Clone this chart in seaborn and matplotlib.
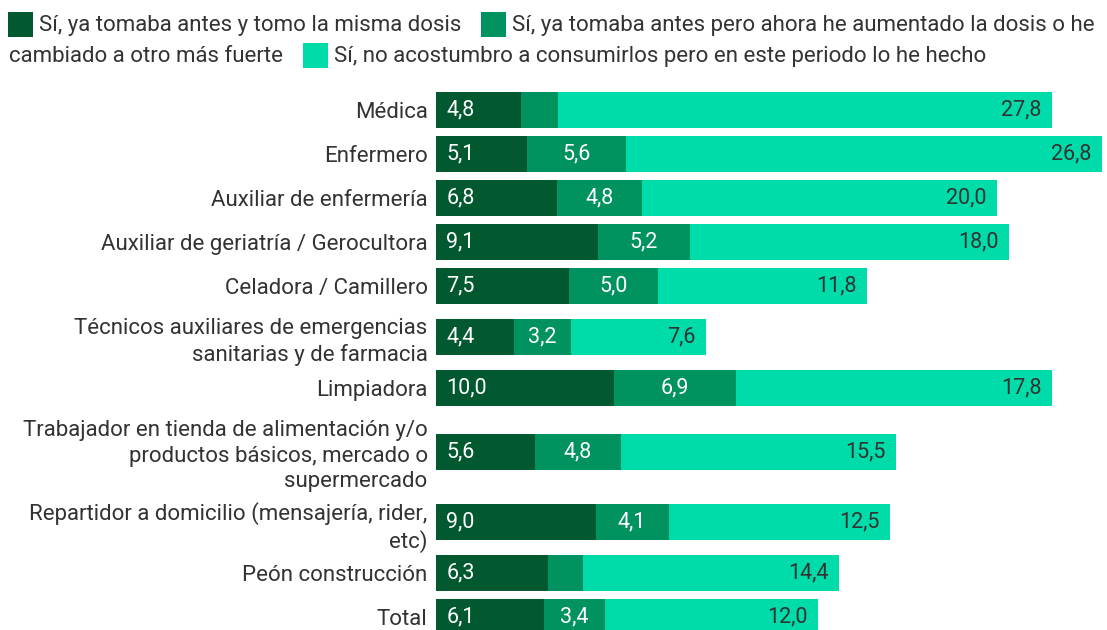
import numpy as np
import pandas as pd
import matplotlib
matplotlib.use("Agg")
import matplotlib.pyplot as plt
import matplotlib.patches as mpatches
import seaborn as sns

# Occupations (top to bottom) and the three stacked shares
categories = [
    "Médica",
    "Enfermero",
    "Auxiliar de enfermería",
    "Auxiliar de geriatría / Gerocultora",
    "Celadora / Camillero",
    "Técnicos auxiliares de emergencias\nsanitarias y de farmacia",
    "Limpiadora",
    "Trabajador en tienda de alimentación y/o\nproductos básicos, mercado o\nsupermercado",
    "Repartidor a domicilio (mensajería, rider,\netc)",
    "Peón construcción",
    "Total",
]
misma_dosis = [4.8, 5.1, 6.8, 9.1, 7.5, 4.4, 10.0, 5.6, 9.0, 6.3, 6.1]
aumentado = [2.1, 5.6, 4.8, 5.2, 5.0, 3.2, 6.9, 4.8, 4.1, 2.0, 3.4]
nuevo = [27.8, 26.8, 20.0, 18.0, 11.8, 7.6, 17.8, 15.5, 12.5, 14.4, 12.0]
# Segments too thin to carry a readable number
hide_mid_label = ["Médica", "Peón construcción"]

series_names = [
    "Sí, ya tomaba antes y tomo la misma dosis",
    "Sí, ya tomaba antes pero ahora he aumentado la dosis o he",
    "cambiado a otro más fuerte",
    "Sí, no acostumbro a consumirlos pero en este periodo lo he hecho",
]

C_DARK = "#03592f"
C_MID = "#00925f"
C_LIGHT = "#00dca9"
TXT = "#333333"
FS = 16
FS_VAL = 15.5

sns.set_style("white")
plt.rcParams["font.family"] = ["Roboto", "DejaVu Sans"]

W, H = 1107, 630
fig = plt.figure(figsize=(W / 100, H / 100), dpi=100)

# Row heights grow with the number of lines in the wrapped label
BAR_PX, LINE_PX, GAP_PX = 36, 25, 8
n_lines = [c.count("\n") + 1 for c in categories]
row_h = [max(BAR_PX, LINE_PX * n) + GAP_PX for n in n_lines]
centers = [row_h[0] / 2]
for i in range(1, len(categories)):
    centers.append(centers[-1] + (row_h[i - 1] + row_h[i]) / 2)

df = pd.DataFrame({
    "cat": categories,
    "pos": centers,
    "a": misma_dosis,
    "b": aumentado,
    "c": nuevo,
})
df["ab"] = df["a"] + df["b"]
df["abc"] = df["ab"] + df["c"]

PX_PER_UNIT = 17.75
ax_left, ax_top = 436, 88
ax = fig.add_axes([ax_left / W, 0, (W - ax_left) / W, (H - ax_top) / H])

width_frac = BAR_PX / min(np.diff(centers))
for col, colr in [("abc", C_LIGHT), ("ab", C_MID), ("a", C_DARK)]:
    sns.barplot(data=df, x=col, y="pos", orient="h", native_scale=True,
                width=width_frac, color=colr, saturation=1, errorbar=None,
                linewidth=0, ax=ax)

ax.set_xlim(0, (W - ax_left) / PX_PER_UNIT)
ax.set_ylim(H - ax_top, 0)
ax.set_xticks([])
ax.set_yticks(centers)
ax.set_yticklabels(categories, fontsize=FS, color=TXT, linespacing=1.28)
ax.tick_params(axis="y", length=0, pad=6)
ax.set_xlabel("")
ax.set_ylabel("")
for s in ax.spines.values():
    s.set_visible(False)

def fmt(v):
    return f"{v:.1f}".replace(".", ",")

for _, r in df.iterrows():
    ax.annotate(fmt(r["a"]), (0, r["pos"]), xytext=(7.5, 0),
                textcoords="offset points", ha="left", va="center",
                color="white", fontsize=FS_VAL)
    if r["cat"] not in hide_mid_label:
        ax.annotate(fmt(r["b"]), ((r["a"] + r["ab"]) / 2, r["pos"]),
                    ha="center", va="center", color="white", fontsize=FS_VAL)
    ax.annotate(fmt(r["c"]), (r["abc"], r["pos"]), xytext=(-7.5, 0),
                textcoords="offset points", ha="right", va="center",
                color=TXT, fontsize=FS_VAL)

# Legend laid out as flowing text with colour swatches
fig.canvas.draw()
renderer = fig.canvas.get_renderer()
SW = 25
ITEM_GAP = 20
SW_GAP = 6

def swatch(x, yc, colr):
    fig.patches.append(mpatches.Rectangle(
        (x / W, 1 - (yc + SW / 2) / H), SW / W, SW / H,
        transform=fig.transFigure, facecolor=colr, edgecolor="none"))

def label(x, yc, s):
    t = fig.text(x / W, 1 - (yc + 1) / H, s, ha="left", va="center",
                 fontsize=FS, color=TXT)
    return t.get_window_extent(renderer).x1

y1, y2 = 24.5, 55.5
swatch(8, y1, C_DARK)
x = label(8 + SW + SW_GAP, y1, series_names[0])
x += ITEM_GAP
swatch(x, y1, C_MID)
label(x + SW + SW_GAP, y1, series_names[1])
x = label(9, y2, series_names[2])
x += ITEM_GAP
swatch(x, y2, C_LIGHT)
label(x + SW + SW_GAP, y2, series_names[3])

fig.savefig("out.png", dpi=100)
